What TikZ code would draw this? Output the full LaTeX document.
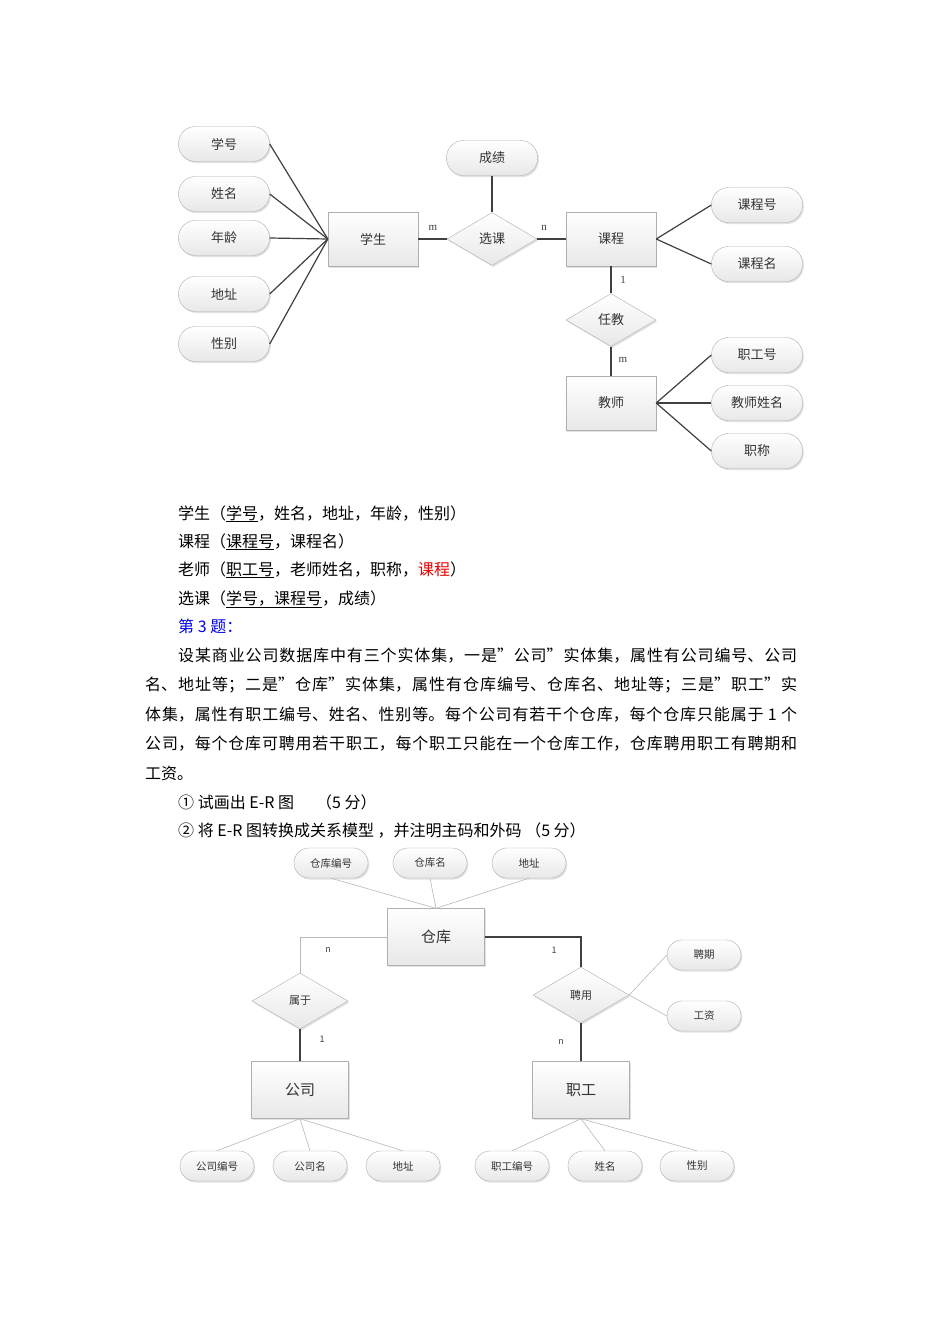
\documentclass[tikz,border=0pt]{standalone}
\usepackage{fontspec}
\setmainfont{Noto Sans CJK SC}
\newfontfamily\serifnum{Liberation Serif}
\usetikzlibrary{shapes.geometric,shadows,positioning}
\XeTeXlinebreaklocale "zh"
\XeTeXlinebreakskip=0pt plus 2pt

\definecolor{inkgray}{RGB}{64,64,64}
\definecolor{boxline}{RGB}{175,175,175}
\definecolor{thinline}{RGB}{185,185,185}
\definecolor{qblue}{RGB}{0,0,235}
\definecolor{ansred}{RGB}{235,0,0}

\tikzset{
	er/.style={draw=boxline, top color=white, bottom color=black!9, text=black!80, inner sep=0pt,
		drop shadow={shadow xshift=1.3pt, shadow yshift=-1.6pt, fill=black!22}},
	entity/.style={er, rectangle, minimum width=90pt, minimum height=54pt, font=\fontsize{13}{13}\selectfont},
	attr/.style={er, rectangle, rounded corners=17pt, minimum width=91pt, minimum height=35pt, font=\fontsize{13}{13}\selectfont},
	rel/.style={er, diamond, minimum width=90pt, minimum height=53pt, font=\fontsize{13}{13}\selectfont},
	entitysm/.style={er, rectangle, minimum width=97pt, minimum height=57pt, font=\fontsize{15}{15}\selectfont},
	attrsm/.style={er, rectangle, rounded corners=15pt, minimum width=74pt, minimum height=30pt, font=\fontsize{10.5}{10.5}\selectfont},
	relsm/.style={er, diamond, minimum width=96pt, minimum height=56pt, font=\fontsize{11}{11}\selectfont},
	lnk/.style={draw=inkgray, line width=1.2pt},
	faint/.style={draw=thinline, line width=0.6pt},
	bold/.style={draw=inkgray, line width=1.6pt},
	card/.style={inner sep=0pt, text=inkgray, font=\serifnum\fontsize{11}{11}\selectfont},
	cardsm/.style={inner sep=0pt, text=inkgray, font=\fontsize{9}{9}\selectfont},
	txt/.style={inner sep=0pt, anchor=base west, font=\fontsize{16}{16}\selectfont}
}

\begin{document}
\begin{tikzpicture}[x=1pt, y=-1pt]
	\fill[white] (0,0) rectangle (950,1344);
	\useasboundingbox (0,0) rectangle (950,1344);

	% first E-R diagram
	\node[entity] (xs) at (373,239) {学生};
	\node[rel] (xk) at (492,239) {选课};
	\node[entity] (kc) at (611,239) {课程};
	\node[rel] (rj) at (611,320) {任教};
	\node[entity] (js) at (611,403) {教师};
	\node[attr] (cj) at (492,158) {成绩};

	\foreach \name/\lbl/\y in {xh/学号/144, xm/姓名/194, nl/年龄/238, dz/地址/294, xb/性别/344} {
		\node[attr] (\name) at (224,\y) {\lbl};
		\draw[lnk] (\name.east) -- (xs.west);
	}
	\foreach \name/\lbl/\y in {kch/课程号/205, kcm/课程名/264} {
		\node[attr] (\name) at (757,\y) {\lbl};
		\draw[lnk] (kc.east) -- (\name.west);
	}
	\foreach \name/\lbl/\y in {zgh/职工号/355, jsxm/教师姓名/403, zc/职称/451} {
		\node[attr] (\name) at (757,\y) {\lbl};
		\draw[lnk] (js.east) -- (\name.west);
	}

	\draw[lnk] (xs) -- (xk) -- (kc);
	\draw[lnk] (cj) -- (xk);
	\draw[lnk] (kc) -- (rj) -- (js);

	\node[card] at (433,228) {m};
	\node[card] at (544,228) {n};
	\node[card] at (623,280) {1};
	\node[card] at (623,360) {m};

	% relational schemas
	\node[txt] (s1) at (178,519) {学生（\underline{学号}，姓名，地址，年龄，性别）};
	\node[txt] (s2) at (178,547) {课程（\underline{课程号}，课程名）};
	\node[txt] (s3) at (178,575) {老师（\underline{职工号}，老师姓名，职称，\textcolor{ansred}{课程}）};
	\node[txt] (s4) at (178,604) {选课（\underline{学号，课程号}，成绩）};
	\node[txt, text=qblue] (q3) at (178,632) {第 3 题：};

	\node[txt, text width=652pt, align=justify, font=\fontsize{16}{29.5}\selectfont] (para) at (145,661)
		{\hspace*{33pt}设某商业公司数据库中有三个实体集，一是”公司”实体集，属性有公司编号、公司\linebreak
		名、地址等；二是”仓库”实体集，属性有仓库编号、仓库名、地址等；三是”职工”实\linebreak
		体集，属性有职工编号、姓名、性别等。每个公司有若干个仓库，每个仓库只能属于 1 个\linebreak
		公司，每个仓库可聘用若干职工，每个职工只能在一个仓库工作，仓库聘用职工有聘期和\linebreak
		工资。};

	\node[txt] (t1) at (178,808) {① 试画出 E-R 图\hspace{22pt}（5 分）};
	\node[txt] (t2) at (178,836) {② 将 E-R 图转换成关系模型 ，并注明主码和外码 （5 分）};

	% second E-R diagram
	\node[entitysm] (ck) at (436,937) {仓库};
	\node[relsm] (sy) at (300,1001) {属于};
	\node[entitysm] (gs) at (300,1090) {公司};
	\node[relsm] (py) at (581,995) {聘用};
	\node[entitysm] (zg) at (581,1090) {职工};

	\foreach \name/\lbl/\x in {ckbh/仓库编号/331, ckm/仓库名/430, ckdz/地址/529} {
		\node[attrsm] (\name) at (\x,863) {\lbl};
		\draw[faint] (\name.south) -- (ck.north);
	}
	\foreach \name/\lbl/\y in {pq/聘期/955, gz/工资/1016} {
		\node[attrsm] (\name) at (704,\y) {\lbl};
		\draw[faint] (py.east) -- (\name.west);
	}
	\foreach \name/\lbl/\x in {gsbh/公司编号/217, gsm/公司名/310, gsdz/地址/403} {
		\node[attrsm] (\name) at (\x,1166) {\lbl};
		\draw[faint] (gs.south) -- (\name.north);
	}
	\foreach \name/\lbl/\x in {zgbh/职工编号/512, zgxm/姓名/605, zgxb/性别/697} {
		\node[attrsm] (\name) at (\x,1166) {\lbl};
		\draw[faint] (zg.south) -- (\name.north);
	}

	\draw[faint] (ck.west) -| (sy.north);
	\draw[bold] (ck.east) -| (py.north);
	\draw[bold] (sy.south) -- (gs.north);
	\draw[bold] (py.south) -- (zg.north);

	\node[cardsm] at (328,950) {n};
	\node[cardsm] at (554,950) {1};
	\node[cardsm] at (322,1039) {1};
	\node[cardsm] at (561,1042) {n};
\end{tikzpicture}
\end{document}
